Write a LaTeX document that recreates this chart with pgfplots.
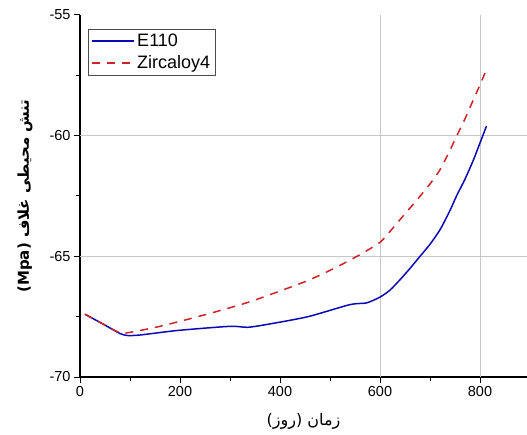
\documentclass[border=0pt]{standalone}
\usepackage{fontspec}
\setmainfont{Liberation Sans}
\newfontfamily\arabicfont[Script=Arabic]{DejaVu Sans}
\TeXXeTstate=1
\usepackage{pgfplots}
\pgfplotsset{compat=1.18}
\definecolor{eblue}{RGB}{10,10,180}
\definecolor{zred}{RGB}{205,35,40}
\begin{document}
\begin{tikzpicture}
\path[use as bounding box] (0,0) rectangle (527pt,434pt);
\begin{axis}[
  at={(80pt,57pt)}, anchor=south west,
  scale only axis, width=447pt, height=362pt,
  xmin=0, xmax=894, ymin=-70, ymax=-55,
  axis x line*=bottom, axis y line*=left,
  axis line style={line width=1.2pt, -},
  xtick={0,200,...,800}, ytick={-70,-65,...,-55},
  minor x tick num=1, minor y tick num=1,
  tick align=outside, major tick length=6pt, minor tick length=4pt,
  tick style={black, line width=1pt},
  extra x ticks={600,800}, extra y ticks={-60,-65},
  extra x tick labels={}, extra y tick labels={},
  extra tick style={grid=major, major tick length=0pt, grid style={black!22, line width=0.8pt}},
  ticklabel style={font=\fontsize{14.5}{17}\selectfont},
  /pgf/number format/assume math mode=true,
  xlabel={\arabicfont\fontsize{16}{19}\selectfont\beginR زمان (روز)\endR},
  xlabel style={yshift=-4pt},
  ylabel={\arabicfont\bfseries\fontsize{15}{18}\selectfont\beginR تنش محیطی غلاف (\beginL Mpa\endL)\endR},
  ylabel style={yshift=4pt},
  legend style={at={(0.018,0.961)}, anchor=north west, draw=black!70,
    font=\fontsize{18}{20}\selectfont, inner sep=3pt, row sep=3pt, cells={anchor=west}},
  legend image code/.code={\pgfsetlinewidth{2pt}\draw[#1, line width=2pt] (0pt,0pt) -- (42pt,0pt);},
]
\addplot[eblue, line width=1.5pt, smooth, tension=0.4] coordinates {
(10,-67.4) (50,-67.85) (80,-68.2) (95,-68.28) (120,-68.26) (196,-68.07)
(300,-67.9) (336,-67.94) (380,-67.8) (456,-67.5) (540,-67.0) (573,-66.93)
(600,-66.69) (620,-66.4) (640,-65.97) (660,-65.5) (680,-65.0) (700,-64.5) (720,-63.9) (740,-63.1) (753,-62.5) (770,-61.8) (787,-61.0) (800,-60.3) (813,-59.6)
};
\addlegendentry{E110}
\addplot[zred, line width=1.5pt, dash pattern=on 8pt off 7pt, smooth, tension=0.4] coordinates {
(10,-67.4) (50,-67.85) (80,-68.17) (100,-68.15) (160,-67.9) (250,-67.42)
(340,-66.88) (450,-66.05) (510,-65.48) (560,-64.93) (600,-64.42) (620,-63.97) (640,-63.48) (660,-63.0)
(680,-62.51) (700,-62.0) (720,-61.41) (740,-60.6) (753,-60.03) (770,-59.3) (787,-58.5) (800,-57.9) (812,-57.3)
};
\addlegendentry{Zircaloy4}
\end{axis}
\end{tikzpicture}
\end{document}
